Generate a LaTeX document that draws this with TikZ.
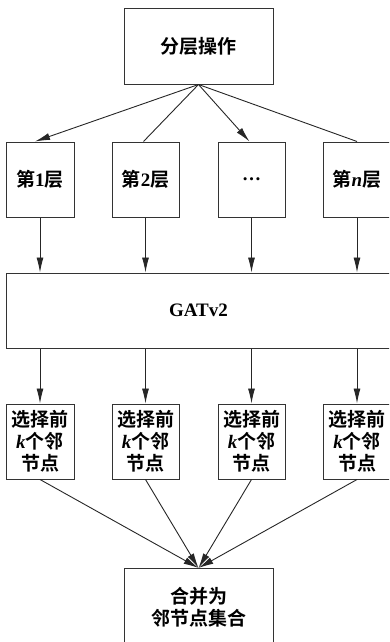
\documentclass[tikz,border=0pt]{standalone}
\usepackage{fontspec}
\setmainfont{Liberation Serif}
\newfontfamily\cjk{Noto Sans CJK SC}[BoldFont=* Bold]
\usetikzlibrary{arrows.meta}
\tikzset{
  box/.style={draw=black!80, line width=1pt, minimum height=75pt, inner sep=0pt, align=center,
    font=\fontsize{19}{22}\selectfont\bfseries},
  small/.style={box, minimum width=68pt},
  arr/.style={draw=black!85, line width=0.9pt, -{Latex[length=15pt,width=7pt]}},
  ln/.style={draw=black!85, line width=0.9pt},
}
\begin{document}
\begin{tikzpicture}[x=1pt,y=-1pt]
\useasboundingbox (0,0) rectangle (389,642);
\clip (0,0) rectangle (389,642);
\node[box, minimum width=149pt] (top) at (198.5,46.5) {\cjk 分层操作};
\node[small] (L1) at (40,179.5) {{\cjk 第}1{\cjk 层}};
\node[small, minimum width=67pt] (L2) at (145.5,179.5) {{\cjk 第}2{\cjk 层}};
\node[small, minimum width=67pt] (L3) at (251.5,179.5) {\textbf{…}};
\node[small] (L4) at (357,179.5) {{\cjk 第}\textit{n}{\cjk 层}};
\node[box, minimum width=394pt, anchor=west] (gat) at (6,310.5) {};
\node[font=\fontsize{19}{22}\selectfont\bfseries] (gatt) at (198.5,310.5) {GATv2};
\node[small] (S1) at (40,441.5) {{\cjk 选择前}\\\textit{k}{\cjk 个邻}\\{\cjk 节点}};
\node[small, minimum width=67pt] (S2) at (145.5,441.5) {{\cjk 选择前}\\\textit{k}{\cjk 个邻}\\{\cjk 节点}};
\node[small, minimum width=67pt] (S3) at (251.5,441.5) {{\cjk 选择前}\\\textit{k}{\cjk 个邻}\\{\cjk 节点}};
\node[small] (S4) at (357,441.5) {{\cjk 选择前}\\\textit{k}{\cjk 个邻}\\{\cjk 节点}};
\node[box, minimum width=149pt, minimum height=90pt, anchor=north] (bot) at (198.5,568) {};
\node[font=\fontsize{19}{22}\selectfont\bfseries, align=center] (bott) at (198.5,607.5) {{\cjk 合并为}\\{\cjk 邻节点集合}};
% top to layers
\draw[arr] (top.south) -- ([xshift=-5pt]L1.north);
\draw[ln] (top.south) -- ([xshift=-2pt]L2.north);
\draw[arr] (top.south) -- ([xshift=-2pt]L3.north);
\draw[ln] (top.south) -- (L4.north);
% layers to gat
\foreach \i in {1,2,3,4}{
  \draw[arr] (L\i.south) -- (L\i.south |- gat.north);
  \draw[arr] (S\i.north |- gat.south) -- (S\i.north);
  \draw[arr] (S\i.south) -- (bot.north);
}
\end{tikzpicture}
\end{document}
